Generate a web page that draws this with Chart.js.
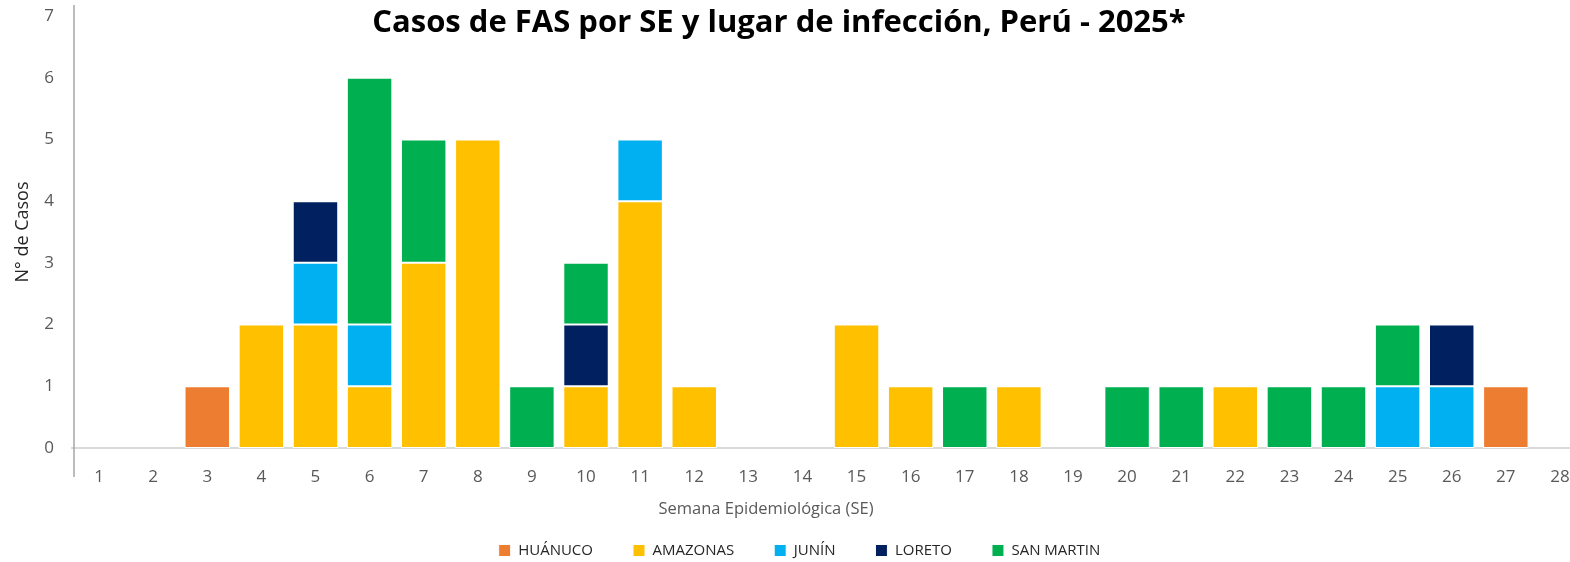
<!DOCTYPE html>
<html>
<head>
<meta charset="utf-8">
<script src="https://cdn.jsdelivr.net/npm/chart.js@4.4.0/dist/chart.umd.min.js"></script>
<style>
  html, body { margin: 0; padding: 0; background: #fff; overflow: hidden; }
  #wrap { position: relative; width: 1570px; height: 562px; overflow: hidden; }
  #chart { position: absolute; left: 0; top: 0; }
  #title {
    position: absolute; left: 0; top: -1px; width: 1558px; text-align: center;
    font-family: "Open Sans", sans-serif; font-weight: 700; font-size: 31px; color: #000;
  }
  #xtitle {
    position: absolute; left: 0; top: 496px; width: 1532px; text-align: center;
    font-family: "Open Sans", sans-serif; font-size: 16.5px; color: #595959;
  }
</style>
</head>
<body>
<div id="wrap">
  <canvas id="chart" width="1600" height="568"></canvas>
  <div id="title">Casos de FAS por SE y lugar de infección, Perú - 2025*</div>
  <div id="xtitle">Semana Epidemiológica (SE)</div>
</div>
<script>
// Semanas epidemiológicas
const semanas = ['1','2','3','4','5','6','7','8','9','10','11','12','13','14','15','16','17','18','19','20','21','22','23','24','25','26','27','28'];

// casos por lugar de infección (SE 1..28)
const huanuco   = [0,0,1,0,0,0,0,0,0,0,0,0,0,0,0,0,0,0,0,0,0,0,0,0,0,0,1,0];
const amazonas  = [0,0,0,2,2,1,3,5,0,1,4,1,0,0,2,1,0,1,0,0,0,1,0,0,0,0,0,0];
const junin     = [0,0,0,0,1,1,0,0,0,0,1,0,0,0,0,0,0,0,0,0,0,0,0,0,1,1,0,0];
const loreto    = [0,0,0,0,1,0,0,0,0,1,0,0,0,0,0,0,0,0,0,0,0,0,0,0,0,1,0,0];
const sanMartin = [0,0,0,0,0,4,2,0,1,1,0,0,0,0,0,0,1,0,0,1,1,0,1,1,1,0,0,0];

const yTicks = [0,1,2,3,4,5,6,7];

const toNull = arr => arr.map(v => v === 0 ? null : v);

const mkDataset = (label, data, color) => ({
    label: label,
    data: toNull(data),
    backgroundColor: color,
    borderColor: '#ffffff',
    borderWidth: 1,
    borderSkipped: false,
    barPercentage: 0.84,
    categoryPercentage: 1.0
});

// dibuja la linea del eje vertical (se extiende fuera del area como en Excel)
const yAxisLine = {
    id: 'yAxisLine',
    afterDraw(chart) {
        const { ctx, chartArea } = chart;
        ctx.save();
        ctx.strokeStyle = '#a6a6a6';
        ctx.lineWidth = 1.5;
        ctx.beginPath();
        ctx.moveTo(chartArea.left + 2, chartArea.top - 11);
        ctx.lineTo(chartArea.left + 2, chartArea.bottom + 29);
        ctx.stroke();
        ctx.restore();
    }
};

const ctx = document.getElementById('chart').getContext('2d');
new Chart(ctx, {
    type: 'bar',
    data: {
        labels: semanas,
        datasets: [
            mkDataset('HUÁNUCO', huanuco, '#ED7D31'),
            mkDataset('AMAZONAS', amazonas, '#FFC000'),
            mkDataset('JUNÍN', junin, '#00B0F0'),
            mkDataset('LORETO', loreto, '#002060'),
            mkDataset('SAN MARTIN', sanMartin, '#00B050')
        ]
    },
    options: {
        responsive: false,
        animation: false,
        layout: { padding: { left: 12, right: 13, top: 16, bottom: 0 } },
        plugins: {
            legend: {
                position: 'bottom',
                labels: {
                    boxWidth: 12,
                    boxHeight: 12,
                    padding: 40,
                    color: '#262626',
                    font: { family: 'Open Sans', size: 15 }
                }
            },
            tooltip: { enabled: false }
        },
        scales: {
            x: {
                stacked: true,
                grid: { display: false, drawTicks: false },
                border: { color: '#d9d9d9', width: 2 },
                ticks: {
                    color: '#595959',
                    font: { family: 'Open Sans', size: 17 },
                    padding: 19,
                    maxRotation: 0,
                    autoSkip: false
                },
                afterFit(scale) { scale.height = 55; }
            },
            y: {
                stacked: true,
                min: 0,
                max: 7,
                grid: { display: false, drawTicks: false },
                border: { display: false },
                afterBuildTicks(scale) { scale.ticks = yTicks.map(v => ({ value: v })); },
                ticks: {
                    color: '#595959',
                    font: { family: 'Open Sans', size: 17 },
                    padding: 18
                },
                title: {
                    display: true,
                    text: 'N° de Casos',
                    color: '#262626',
                    font: { family: 'Open Sans', size: 18 },
                    padding: { top: 0, bottom: 0 }
                },
                afterFit(scale) {
                    scale.width = 60;
                    // sin el relleno extra que añade ticks.padding arriba/abajo
                    scale.paddingTop = 0;
                    scale.paddingBottom = 0;
                }
            }
        }
    },
    plugins: [yAxisLine]
});
</script>
</body>
</html>
